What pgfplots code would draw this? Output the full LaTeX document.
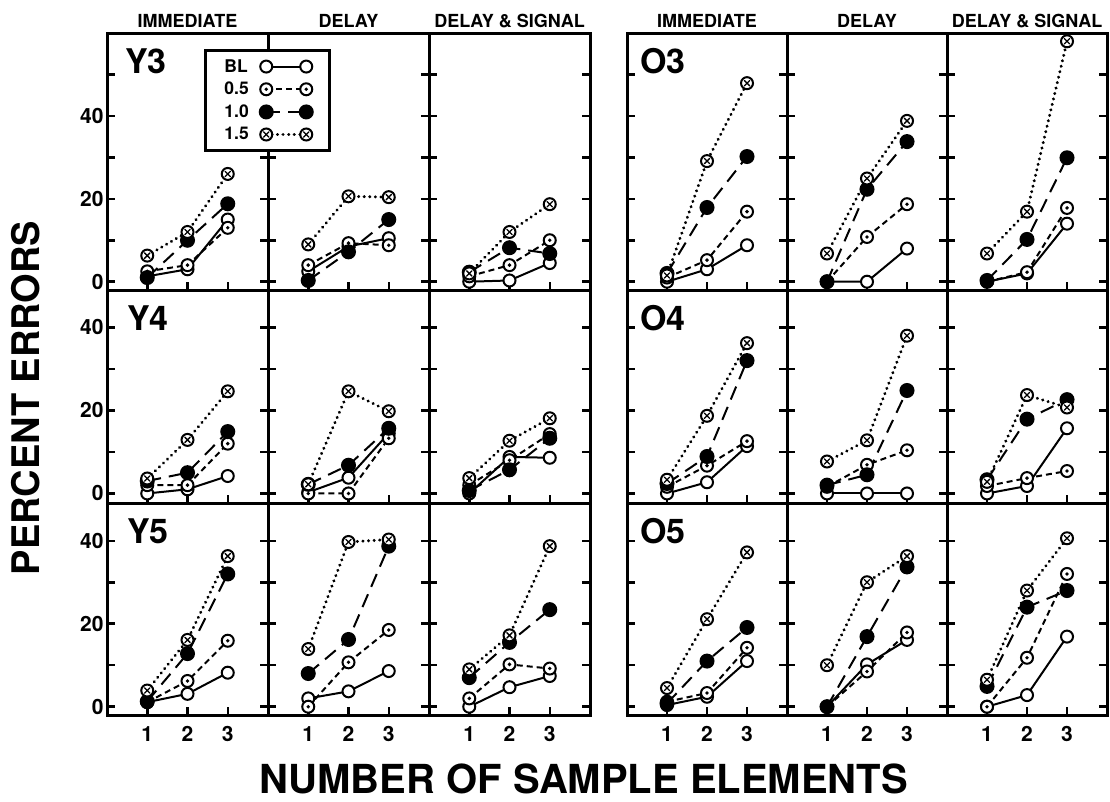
\documentclass[border=0pt]{standalone}
\usepackage{fontspec}
\setmainfont{TeX Gyre Heros}
\usepackage{pgfplots}
\pgfplotsset{compat=1.18}

% circle with centre dot (0.5) and circle with cross (1.5)
\pgfdeclareplotmark{dotcirc}{%
  \pgfpathcircle{\pgfpointorigin}{\pgfplotmarksize}\pgfusepathqfillstroke
  \begin{pgfscope}\pgfsetfillcolor{black}%
  \pgfpathcircle{\pgfpointorigin}{0.32\pgfplotmarksize}\pgfusepathqfill\end{pgfscope}}
\pgfdeclareplotmark{xcirc}{%
  \pgfpathcircle{\pgfpointorigin}{\pgfplotmarksize}\pgfusepathqfillstroke
  \begin{pgfscope}\pgfsetlinewidth{1.3pt}%
  \pgfpathmoveto{\pgfpoint{-0.45\pgfplotmarksize}{-0.45\pgfplotmarksize}}%
  \pgfpathlineto{\pgfpoint{0.45\pgfplotmarksize}{0.45\pgfplotmarksize}}%
  \pgfpathmoveto{\pgfpoint{-0.45\pgfplotmarksize}{0.45\pgfplotmarksize}}%
  \pgfpathlineto{\pgfpoint{0.45\pgfplotmarksize}{-0.45\pgfplotmarksize}}%
  \pgfusepathqstroke\end{pgfscope}}

\newcommand\lblfont{\fontsize{34}{34}\selectfont\bfseries}

\pgfplotsset{
  panel/.style={
    scale only axis, anchor=north west, clip=false,
    xmin=0, xmax=4, xtick={1,2,3}, xticklabels={},
    yticklabels={},
    tick align=inside, xtick pos=left, ytick pos=both,
    major tick length=8pt,
    axis line style={line width=3pt},
    tick style={line width=2.5pt, black},
    ticklabel style={font=\fontsize{21}{21}\selectfont\bfseries},
    xticklabel style={yshift=-8pt},
    every axis title/.style={at={(0.5,1)}, anchor=base, yshift=6pt,
      font=\fontsize{18}{18}\selectfont\bfseries},
  },
  rowA/.style={height=257pt, ymin=-2, ymax=60, ytick={0,10,...,50}},
  rowB/.style={height=213pt, ymin=-2.3, ymax=49, ytick={0,10,...,40}},
  rowC/.style={height=212pt, ymin=-2, ymax=49.1, ytick={0,10,...,40}, xticklabels={1,2,3}},
  colL/.style={width=161pt},
  colR/.style={width=160pt},
  sBL/.style={black, line width=2pt, solid, mark=*, mark size=6pt,
    mark options={solid, fill=white, line width=2pt}},
  sA/.style={black, line width=2pt, dash pattern=on 6pt off 4pt, mark=dotcirc, mark size=6pt,
    mark options={solid, fill=white, line width=2pt}},
  sB/.style={black, line width=2pt, dash pattern=on 14pt off 8pt, mark=*, mark size=6.5pt,
    mark options={solid, fill=black}},
  sC/.style={black, line width=3.2pt, line cap=round, dash pattern=on 0.1pt off 5.5pt, mark=xcirc, mark size=6pt,
    mark options={solid, fill=white, line width=2pt}},
}

% BL, 0.5, 1.0, 1.5
\newcommand\four[4]{%
  \addplot[sBL] coordinates {#1};
  \addplot[sA] coordinates {#2};
  \addplot[sB] coordinates {#3};
  \addplot[sC] coordinates {#4};}
\newcommand\plabel[2]{\node[anchor=base west, inner sep=0, font=\lblfont]
  at (rel axis cs:0,1) [xshift=#1, yshift=-40pt] {#2};}

\begin{document}
\begin{tikzpicture}
\path[use as bounding box] (0pt,0pt) rectangle (1110pt,-801pt);

% ---------- Y block, row 1 (Y3) ----------
\begin{axis}[panel, colL, rowA, at={(268pt,-33pt)}, title={DELAY}]
\four{(1,2.5)(2,8.5)(3,10.5)}{(1,4)(2,9.3)(3,8.8)}{(1,0.3)(2,7.2)(3,15)}{(1,9)(2,20.6)(3,20.4)}
\end{axis}
\begin{axis}[panel, colL, rowA, at={(429pt,-33pt)}, title={DELAY \& SIGNAL}]
\four{(1,0)(2,0.3)(3,4.5)}{(1,1.3)(2,4)(3,10)}{(1,2.3)(2,8.2)(3,6.8)}{(1,2)(2,12)(3,18.7)}
\end{axis}

% ---------- Y block, row 2 (Y4) ----------
\begin{axis}[panel, colL, rowB, at={(107pt,-290pt)}, yticklabels={0,,20,,40}]
\four{(1,0)(2,1)(3,4.2)}{(1,2)(2,2)(3,12)}{(1,3)(2,5)(3,14.9)}{(1,3.6)(2,12.9)(3,24.6)}
\plabel{20pt}{Y4}
\end{axis}
\begin{axis}[panel, colL, rowB, at={(268pt,-290pt)}]
\four{(1,0.3)(2,3.8)(3,14.5)}{(1,0)(2,0)(3,13.3)}{(1,2.2)(2,6.8)(3,15.7)}{(1,2.2)(2,24.6)(3,19.8)}
\end{axis}
\begin{axis}[panel, colL, rowB, at={(429pt,-290pt)}]
\four{(1,0)(2,8.8)(3,8.6)}{(1,2)(2,8)(3,14.3)}{(1,0.7)(2,5.7)(3,13.3)}{(1,3.7)(2,12.7)(3,18.1)}
\end{axis}

% ---------- Y block, row 3 (Y5) ----------
\begin{axis}[panel, colL, rowC, at={(107pt,-503pt)}, yticklabels={0,,20,,40}]
\four{(1,1.1)(2,3.1)(3,8.2)}{(1,1.1)(2,6.2)(3,15.9)}{(1,1.3)(2,12.8)(3,32)}{(1,3.9)(2,16.1)(3,36.3)}
\plabel{20pt}{Y5}
\end{axis}
\begin{axis}[panel, colL, rowC, at={(268pt,-503pt)}]
\four{(1,2)(2,3.7)(3,8.6)}{(1,0)(2,10.7)(3,18.5)}{(1,8)(2,16.2)(3,38.7)}{(1,13.9)(2,39.7)(3,40.3)}
\end{axis}
\begin{axis}[panel, colL, rowC, at={(429pt,-503pt)}]
\four{(1,0)(2,4.7)(3,7.4)}{(1,2)(2,10.2)(3,9.2)}{(1,7)(2,15.5)(3,23.4)}{(1,9)(2,17.2)(3,38.7)}
\end{axis}

% ---------- O block, row 1 (O3) ----------
\begin{axis}[panel, colR, rowA, at={(627pt,-33pt)}, title={IMMEDIATE}]
\four{(1,0)(2,3)(3,8.8)}{(1,1)(2,5.2)(3,16.9)}{(1,2)(2,17.9)(3,30.2)}{(1,1.5)(2,29.1)(3,47.9)}
\plabel{13pt}{O3}
\end{axis}
\begin{axis}[panel, colR, rowA, at={(787pt,-33pt)}, title={DELAY}]
\four{(1,0)(2,0)(3,8)}{(1,0)(2,10.8)(3,18.7)}{(1,0)(2,22.3)(3,33.8)}{(1,6.8)(2,24.9)(3,38.8)}
\end{axis}
\begin{axis}[panel, colR, rowA, at={(947pt,-33pt)}, title={DELAY \& SIGNAL}]
\four{(1,0)(2,2)(3,14)}{(1,0)(2,2.3)(3,17.8)}{(1,0.3)(2,10.2)(3,29.9)}{(1,6.8)(2,16.9)(3,58)}
\end{axis}

% ---------- O block, row 2 (O4) ----------
\begin{axis}[panel, colR, rowB, at={(627pt,-290pt)}]
\four{(1,0)(2,2.7)(3,11.4)}{(1,1.6)(2,6.7)(3,12.6)}{(1,2.4)(2,8.9)(3,32)}{(1,3.3)(2,18.7)(3,36.2)}
\plabel{13pt}{O4}
\end{axis}
\begin{axis}[panel, colR, rowB, at={(787pt,-290pt)}]
\four{(1,0)(2,0)(3,0)}{(1,1.6)(2,6.9)(3,10.4)}{(1,2)(2,4.5)(3,24.8)}{(1,7.7)(2,12.8)(3,38)}
\end{axis}
\begin{axis}[panel, colR, rowB, at={(947pt,-290pt)}]
\four{(1,0)(2,1.8)(3,15.7)}{(1,1.8)(2,3.7)(3,5.4)}{(1,3.3)(2,17.9)(3,22.6)}{(1,2.8)(2,23.7)(3,20.7)}
\end{axis}

% ---------- O block, row 3 (O5) ----------
\begin{axis}[panel, colR, rowC, at={(627pt,-503pt)}]
\four{(1,0.4)(2,2.4)(3,11)}{(1,1.2)(2,3.3)(3,14.2)}{(1,0.8)(2,11)(3,19.1)}{(1,4.5)(2,21.1)(3,37.2)}
\plabel{13pt}{O5}
\end{axis}
\begin{axis}[panel, colR, rowC, at={(787pt,-503pt)}]
\four{(1,0)(2,10.2)(3,16.1)}{(1,0)(2,8.5)(3,17.9)}{(1,0)(2,16.9)(3,33.7)}{(1,10)(2,30)(3,36.3)}
\end{axis}
\begin{axis}[panel, colR, rowC, at={(947pt,-503pt)}]
\four{(1,0)(2,2.8)(3,16.9)}{(1,0)(2,11.8)(3,32)}{(1,4.9)(2,24)(3,28)}{(1,6.5)(2,28)(3,40.6)}
\end{axis}

% ---------- Y3 immediate, drawn last so that its legend sits on top ----------
\begin{axis}[panel, colL, rowA, at={(107pt,-33pt)}, title={IMMEDIATE},
  yticklabels={0,,20,,40,},
  legend entries={BL,0.5,1.0,1.5},
  legend plot pos=right,
  legend cell align=left,
  legend image code/.code={\draw[mark repeat=1,mark phase=1,#1] plot coordinates {(0pt,0pt) (40pt,0pt)};},
  legend style={at={(0.602,0.938)}, anchor=north west, draw=black, line width=3pt, fill=white,
    font=\fontsize{17.5}{17.5}\selectfont\bfseries, row sep=4.5pt, column sep=9pt,
    inner xsep=17pt, inner ysep=7pt}]
\four{(1,1.3)(2,3)(3,15)}{(1,2.5)(2,4)(3,13)}{(1,1)(2,10)(3,18.8)}{(1,6.3)(2,12)(3,26)}
\plabel{18pt}{Y3}
\end{axis}

% axis titles
\node[rotate=90, inner sep=0, font=\fontsize{38}{38}\selectfont\bfseries] at (26pt,-398pt) {PERCENT ERRORS};
\node[anchor=base, inner sep=0, font=\fontsize{40}{40}\selectfont\bfseries] at (584pt,-793pt) {NUMBER OF SAMPLE ELEMENTS};
\end{tikzpicture}
\end{document}
